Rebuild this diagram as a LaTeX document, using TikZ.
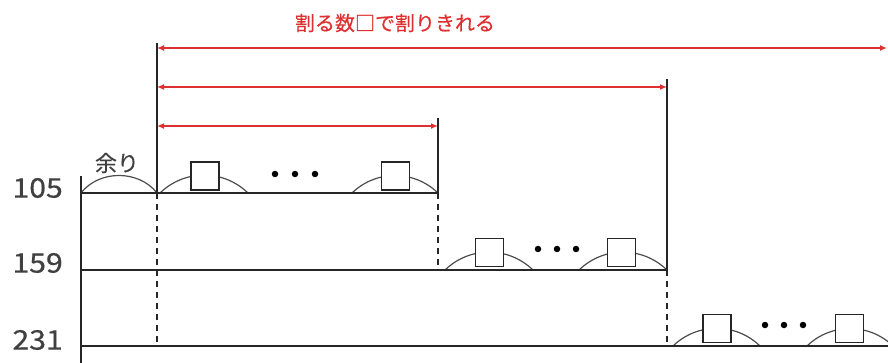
\documentclass[tikz,border=0pt]{standalone}
\usepackage{fontspec}
\setmainfont{Noto Sans CJK JP}
\newfontfamily\numfont[FakeBold=0.6]{Noto Sans CJK JP}
\newfontfamily\jpfont[FakeBold=0.4]{Noto Sans CJK JP}
\usetikzlibrary{arrows.meta}
\definecolor{dimred}{RGB}{222,48,48}
\begin{document}
\begin{tikzpicture}[x=1pt,y=-1pt,
  line/.style={line width=1.3pt,black!85},
  dashline/.style={line width=1.2pt,black!85,dash pattern=on 6pt off 5pt},
  dim/.style={line width=1.8pt,dimred,{Latex[length=7pt,width=6pt]}-{Latex[length=7pt,width=6pt]}},
  hump/.style={line width=1.2pt,black!70},
  sq/.style={draw=black!85,line width=1.3pt,fill=white,minimum size=28pt,inner sep=0pt},
  dotn/.style={circle,fill=black,inner sep=0pt,minimum size=6.5pt},
  lab/.style={font=\numfont\fontsize{27}{27}\selectfont,text=black!75,anchor=east,inner sep=0pt}]
\useasboundingbox (0,0) rectangle (888,363);
% coordinates
\coordinate (ax0) at (81,176);
\coordinate (ax1) at (81,363);
\coordinate (a1) at (81,193);  \coordinate (a2) at (438,193);
\coordinate (b1) at (81,270);  \coordinate (b2) at (667,270);
\coordinate (c1) at (81,346);  \coordinate (c2) at (888,346);
\coordinate (v1t) at (157,43); \coordinate (v1m) at (157,193); \coordinate (v1b) at (157,346);
\coordinate (v2t) at (438,118); \coordinate (v2b) at (438,270);
\coordinate (v3t) at (667,79); \coordinate (v3b) at (667,346);
\coordinate (r1a) at (157,48);  \coordinate (r1b) at (887,48);
\coordinate (r2a) at (157,87);  \coordinate (r2b) at (667,87);
\coordinate (r3a) at (157,126); \coordinate (r3b) at (438,126);
% humps
\draw[hump] (a1) to[bend left=52] (v1m);
\draw[hump] (160,193) to[bend left=44] (248,193);
\draw[hump] (352,193) to[bend left=44] (438,193);
\draw[hump] (445,270) to[bend left=44] (533,270);
\draw[hump] (579,270) to[bend left=44] (667,270);
\draw[hump] (673,346) to[bend left=44] (760,346);
\draw[hump] (807,346) to[bend left=44] (893,346);
% lines
\draw[line] (ax0) -- (ax1);
\draw[line] (a1) -- (a2);
\draw[line] (b1) -- (b2);
\draw[line] (c1) -- (c2);
\draw[line] (v1t) -- (v1m);
\draw[dashline] (v1m) -- (v1b);
\draw[line] (v2t) -- (a2);
\draw[dashline] (a2) -- (v2b);
\draw[line] (v3t) -- (b2);
\draw[dashline] (b2) -- (v3b);
% red dimension arrows
\draw[dim] (r1a) -- (r1b);
\draw[dim] (r2a) -- (r2b);
\draw[dim] (r3a) -- (r3b);
% squares
\node[sq] (s1) at (205,176) {};
\node[sq] (s2) at (395.5,176) {};
\node[sq] (s3) at (489.5,252.5) {};
\node[sq] (s4) at (621.5,252.5) {};
\node[sq] (s5) at (717,328.5) {};
\node[sq] (s6) at (849.5,328.5) {};
% dots
\node[dotn] (d11) at (275,174) {};
\node[dotn] (d12) at (295,174) {};
\node[dotn] (d13) at (315,174) {};
\node[dotn] (d21) at (538,249) {};
\node[dotn] (d22) at (557,249) {};
\node[dotn] (d23) at (576,249) {};
\node[dotn] (d31) at (765,325) {};
\node[dotn] (d32) at (784,325) {};
\node[dotn] (d33) at (803,325) {};
% labels
\node[lab] (l105) at (63,188) {\scalebox{1.12}[1]{105}};
\node[lab] (l159) at (63,263) {\scalebox{1.12}[1]{159}};
\node[lab] (l231) at (63,340) {\scalebox{1.12}[1]{231}};
\node[font=\jpfont\fontsize{22}{22}\selectfont,text=black!75,inner sep=0pt] (amari) at (117,163) {余り};
\node[font=\jpfont\fontsize{20}{20}\selectfont,text=dimred,inner sep=0pt] (title) at (395,23) {割る数□で割りきれる};
\end{tikzpicture}
\end{document}
